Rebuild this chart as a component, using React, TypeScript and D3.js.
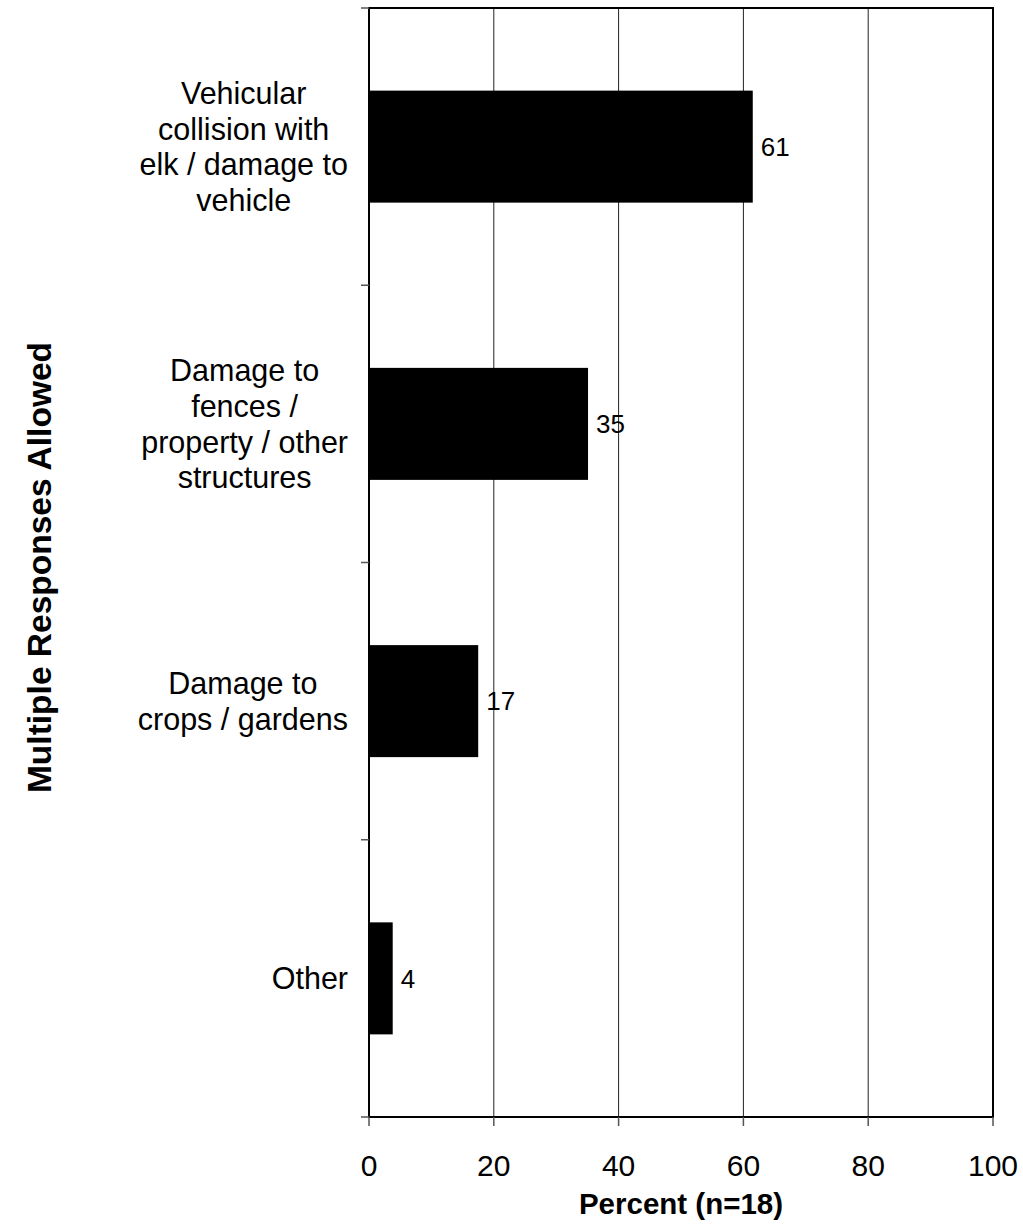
import React, { useEffect, useRef } from "react";
import * as d3 from "d3";

const categories: string[][] = [
  ["Vehicular", "collision with", "elk / damage to", "vehicle"],
  ["Damage to", "fences /", "property / other", "structures"],
  ["Damage to", "crops / gardens"],
  ["Other"],
];
const values: number[] = [61.5, 35.1, 17.5, 3.8];
const valueLabels: string[] = ["61", "35", "17", "4"];
const xTicks: number[] = [0, 20, 40, 60, 80, 100];
const xTitle = "Percent (n=18)";
const yTitle = "Multiple Responses Allowed";

const W = 1023;
const H = 1230;
const FONT = "'Liberation Sans', Arial, Helvetica, sans-serif";

export default function App() {
  const ref = useRef<SVGSVGElement>(null);
  useEffect(() => {
    const svg = d3.select(ref.current);
    svg.selectAll("*").remove();
    const left = 369, right = 993, top = 8, bottom = 1117;
    const x = d3.scaleLinear().domain([0, 100]).range([left, right]);
    const y = d3
      .scaleBand<number>()
      .domain(d3.range(categories.length))
      .range([top, bottom])
      .paddingInner(0.596)
      .paddingOuter(0.298);
    const step = (bottom - top) / categories.length;

    // gridlines
    svg
      .append("g")
      .selectAll("line")
      .data(xTicks.filter((t) => t > 0 && t < 100))
      .join("line")
      .attr("x1", (d) => x(d))
      .attr("x2", (d) => x(d))
      .attr("y1", top)
      .attr("y2", bottom)
      .attr("stroke", "#222")
      .attr("stroke-width", 1);

    // bars
    svg
      .append("g")
      .selectAll("rect")
      .data(values)
      .join("rect")
      .attr("x", x(0))
      .attr("y", (_, i) => y(i)!)
      .attr("width", (d) => x(d) - x(0))
      .attr("height", y.bandwidth())
      .attr("fill", "#000");

    // value labels
    svg
      .append("g")
      .selectAll("text")
      .data(values)
      .join("text")
      .attr("x", (d) => x(d) + 8)
      .attr("y", (_, i) => y(i)! + y.bandwidth() / 2)
      .attr("dy", "0.36em")
      .attr("font-family", FONT)
      .attr("font-size", 26)
      .text((_, i) => valueLabels[i]);

    // frame
    svg
      .append("rect")
      .attr("x", left)
      .attr("y", top)
      .attr("width", right - left)
      .attr("height", bottom - top)
      .attr("fill", "none")
      .attr("stroke", "#000")
      .attr("stroke-width", 2);

    // y ticks at band boundaries
    const yb = d3.range(categories.length + 1).map((i) => top + i * step);
    svg
      .append("g")
      .selectAll("line")
      .data(yb)
      .join("line")
      .attr("x1", left - 8)
      .attr("x2", left)
      .attr("y1", (d) => d)
      .attr("y2", (d) => d)
      .attr("stroke", "#555")
      .attr("stroke-width", 1.5);

    // x ticks
    svg
      .append("g")
      .selectAll("line")
      .data(xTicks)
      .join("line")
      .attr("x1", (d) => x(d))
      .attr("x2", (d) => x(d))
      .attr("y1", bottom)
      .attr("y2", bottom + 9)
      .attr("stroke", "#555")
      .attr("stroke-width", 1.5);

    svg
      .append("g")
      .selectAll("text")
      .data(xTicks)
      .join("text")
      .attr("x", (d) => x(d))
      .attr("y", 1176)
      .attr("text-anchor", "middle")
      .attr("font-family", FONT)
      .attr("font-size", 30)
      .text((d) => String(d));

    // category labels
    const lineH = 35.7;
    const rightEdge = 348;
    categories.forEach((lines, i) => {
      const g = svg.append("g");
      const cy = y(i)! + y.bandwidth() / 2;
      const n = lines.length;
      const texts = g
        .selectAll("text")
        .data(lines)
        .join("text")
        .attr("y", (_, j) => cy + (j - (n - 1) / 2) * lineH)
        .attr("dy", "0.36em")
        .attr("text-anchor", "middle")
        .attr("font-family", FONT)
        .attr("font-size", 30.5)
        .text((d) => d);
      let maxW = 0;
      texts.each(function () {
        maxW = Math.max(maxW, (this as SVGTextElement).getComputedTextLength());
      });
      texts.attr("x", rightEdge - maxW / 2);
    });

    // axis titles
    svg
      .append("text")
      .attr("x", (left + right) / 2)
      .attr("y", 1214)
      .attr("text-anchor", "middle")
      .attr("font-family", FONT)
      .attr("font-weight", "bold")
      .attr("font-size", 29.5)
      .text(xTitle);

    svg
      .append("text")
      .attr("transform", `translate(51, ${(340 + 795) / 2}) rotate(-90)`)
      .attr("text-anchor", "middle")
      .attr("font-family", FONT)
      .attr("font-weight", "bold")
      .attr("font-size", 33.5)
      .text(yTitle);
  }, []);
  return (
    <svg
      ref={ref}
      width={W}
      height={H}
      style={{ position: "absolute", left: 0, top: 0, background: "#fff" }}
    />
  );
}
